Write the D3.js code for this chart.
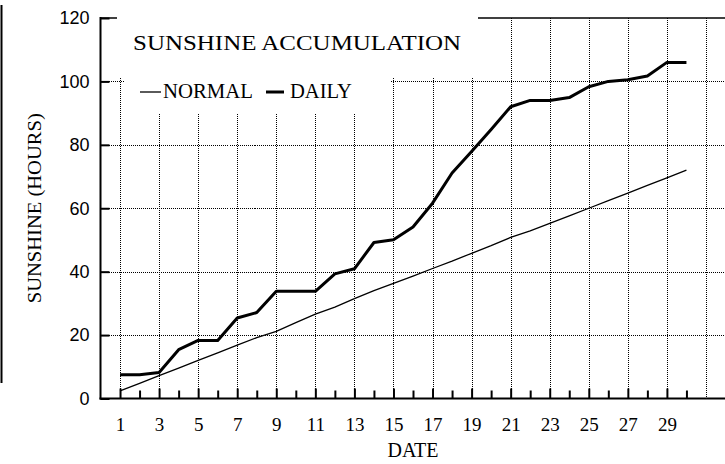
<!DOCTYPE html>
<html>
<head>
<meta charset="utf-8">
<script src="https://cdn.jsdelivr.net/npm/d3@7"></script>
<style>
    body { margin: 0; background: #fff; }
    .grid line { stroke: #000; stroke-dasharray: 1,1; shape-rendering: crispEdges; }
    .grid path { display: none; }
    .axis path, .axis line { stroke: #000; stroke-width: 2; }
</style>
</head>
<body>
<div id="chart"></div>
<script>
/*
sunshine accumulation chart
 */

// data
var dates = [1, 2, 3, 4, 5, 6, 7, 8, 9, 10, 11, 12, 13, 14, 15, 16, 17, 18, 19, 20,
    21, 22, 23, 24, 25, 26, 27, 28, 29, 30];
var normal = [2.4, 4.8, 7.2, 9.6, 12.0, 14.4, 16.8, 19.2, 21.2, 23.9, 26.6, 28.8, 31.5, 34.0,
    36.3, 38.6, 41.0, 43.3, 45.8, 48.2, 50.8, 52.9, 55.2, 57.6, 60.0, 62.4, 64.8, 67.2, 69.6, 72.0];
var daily = [7.5, 7.5, 8.2, 15.4, 18.3, 18.3, 25.4, 27.1, 33.8, 33.8, 33.8, 39.3, 40.9, 49.2,
    50.1, 54.1, 61.6, 71.1, 77.9, 84.8, 92.0, 94.0, 94.0, 94.9, 98.3, 100.0, 100.5, 101.7, 106.0, 106.0];

var xMajorTicks = [1, 3, 5, 7, 9, 11, 13, 15, 17, 19, 21, 23, 25, 27, 29];
var xGridTicks = [1, 3, 5, 7, 9, 11, 13, 15, 17, 19, 21, 23, 25, 27, 29, 31];
var xMinorTicks = [2, 4, 6, 8, 10, 12, 14, 16, 18, 20, 22, 24, 26, 28, 30];
var yTicks = [0, 20, 40, 60, 80, 100, 120];
var yGridTicks = [20, 40, 60, 80, 100];

var titleText = "SUNSHINE ACCUMULATION";
var legendNames = ["NORMAL", "DAILY"];

var width = 725;
var height = 464;

var svg = d3.select("#chart")
    .append("svg")
    .attr("width", width)
    .attr("height", height);

// plot area
var plotLeft = 100.5, plotRight = 725.5, plotTop = 18, plotBottom = 398.5;

var xScale = d3.scaleLinear().domain([0, 32]).range([plotLeft, plotRight]);
var yScale = d3.scaleLinear().domain([0, 120]).range([plotBottom, plotTop]);

// left border piece
svg.append("line")
    .attr("x1", 1.5).attr("x2", 1.5)
    .attr("y1", 5).attr("y2", 383)
    .attr("stroke", "#000").attr("stroke-width", 2);

// grid
svg.append("g")
    .attr("class", "grid")
    .attr("transform", "translate(0," + plotBottom + ")")
    .call(d3.axisBottom(xScale).tickValues(xGridTicks).tickSize(-(plotBottom - plotTop)).tickFormat(""));

svg.append("g")
    .attr("class", "grid")
    .attr("transform", "translate(" + plotLeft + ",0)")
    .call(d3.axisLeft(yScale).tickValues(yGridTicks).tickSize(-(plotRight - plotLeft)).tickFormat(""));

// top border
svg.append("line")
    .attr("x1", plotLeft).attr("x2", plotRight)
    .attr("y1", plotTop).attr("y2", plotTop)
    .attr("stroke", "#000").attr("stroke-width", 1.6);

// lines
var lineGen = d3.line()
    .x(function (d, i) { return xScale(dates[i]); })
    .y(function (d) { return yScale(d); });

svg.append("path")
    .datum(normal)
    .attr("d", lineGen)
    .attr("fill", "none")
    .attr("stroke", "#000")
    .attr("stroke-width", 1.3);

svg.append("path")
    .datum(daily)
    .attr("d", lineGen)
    .attr("fill", "none")
    .attr("stroke", "#000")
    .attr("stroke-width", 3)
    .attr("stroke-linejoin", "round");

// axes
var xAxis = svg.append("g")
    .attr("class", "axis")
    .attr("transform", "translate(0," + plotBottom + ")")
    .call(d3.axisBottom(xScale).tickValues(xMajorTicks).tickSize(-10).tickPadding(19)
        .tickFormat(function (d) { return String(d); }));
xAxis.select(".domain").remove();
xAxis.selectAll("text")
    .attr("font-family", "'Liberation Serif', 'Times New Roman', serif")
    .attr("font-size", "19px")
    .attr("fill", "#000");

var xMinor = svg.append("g")
    .attr("class", "axis")
    .attr("transform", "translate(0," + plotBottom + ")")
    .call(d3.axisBottom(xScale).tickValues(xMinorTicks).tickSize(-8).tickFormat(""));
xMinor.select(".domain").remove();

var yAxis = svg.append("g")
    .attr("class", "axis")
    .attr("transform", "translate(" + plotLeft + ",0)")
    .call(d3.axisLeft(yScale).tickValues(yTicks).tickSize(-9).tickPadding(11));
yAxis.select(".domain").remove();
yAxis.selectAll("text")
    .attr("font-family", "'Liberation Sans', Arial, sans-serif")
    .attr("font-size", "18px")
    .attr("fill", "#000");

svg.append("line")
    .attr("x1", plotLeft).attr("x2", plotLeft)
    .attr("y1", plotTop - 1).attr("y2", plotBottom + 1)
    .attr("stroke", "#000").attr("stroke-width", 2);
svg.append("line")
    .attr("x1", plotLeft - 1).attr("x2", plotRight)
    .attr("y1", plotBottom).attr("y2", plotBottom)
    .attr("stroke", "#000").attr("stroke-width", 2);

// title + legend boxes
svg.append("rect")
    .attr("x", 117).attr("y", 0)
    .attr("width", 361).attr("height", 78)
    .attr("fill", "#fff");
svg.append("rect")
    .attr("x", 124).attr("y", 78)
    .attr("width", 267).attr("height", 36)
    .attr("fill", "#fff");

var serif = "'Liberation Serif', 'Times New Roman', serif";

svg.append("text")
    .attr("x", 133).attr("y", 49.5)
    .attr("font-family", serif)
    .attr("font-size", "22px")
    .attr("textLength", 328)
    .attr("lengthAdjust", "spacingAndGlyphs")
    .text(titleText);

svg.append("line")
    .attr("x1", 140).attr("x2", 161)
    .attr("y1", 92).attr("y2", 92)
    .attr("stroke", "#000").attr("stroke-width", 1.3);
svg.append("text")
    .attr("x", 163).attr("y", 97.5)
    .attr("font-family", serif)
    .attr("font-size", "21px")
    .attr("textLength", 90)
    .attr("lengthAdjust", "spacingAndGlyphs")
    .text(legendNames[0]);

svg.append("line")
    .attr("x1", 266).attr("x2", 284)
    .attr("y1", 92).attr("y2", 92)
    .attr("stroke", "#000").attr("stroke-width", 3);
svg.append("text")
    .attr("x", 290).attr("y", 97.5)
    .attr("font-family", serif)
    .attr("font-size", "21px")
    .attr("textLength", 62)
    .attr("lengthAdjust", "spacingAndGlyphs")
    .text(legendNames[1]);

// axis titles
svg.append("text")
    .attr("x", (plotLeft + plotRight) / 2)
    .attr("y", 457)
    .attr("text-anchor", "middle")
    .attr("font-family", serif)
    .attr("font-size", "20px")
    .text("DATE");

svg.append("text")
    .attr("transform", "translate(41," + ((plotTop + plotBottom) / 2) + ") rotate(-90)")
    .attr("text-anchor", "middle")
    .attr("font-family", serif)
    .attr("font-size", "19px")
    .attr("textLength", 190)
    .attr("lengthAdjust", "spacingAndGlyphs")
    .text("SUNSHINE (HOURS)");
</script>
</body>
</html>
